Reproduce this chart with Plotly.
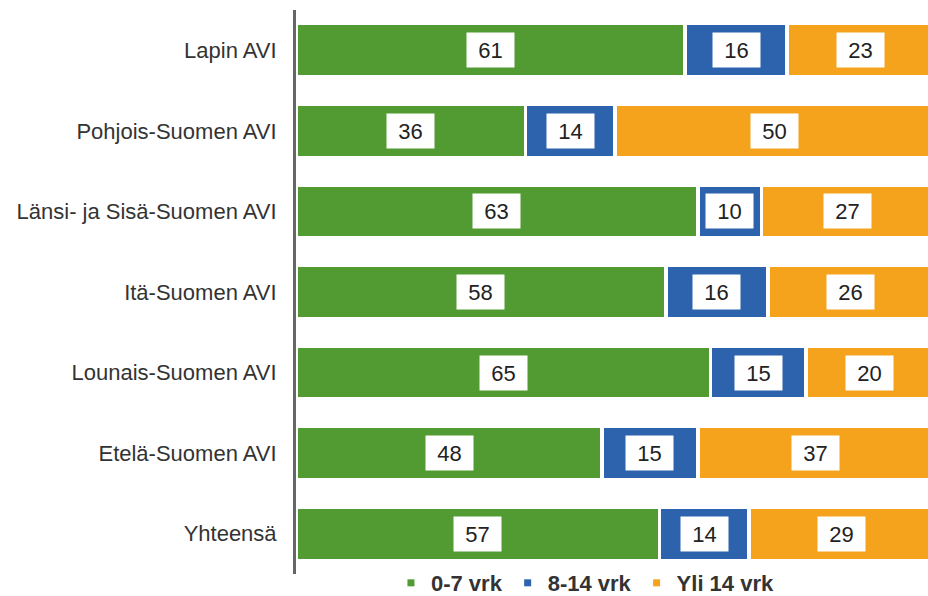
import plotly.graph_objects as go

categories = ["Lapin AVI", "Pohjois-Suomen AVI", "Länsi- ja Sisä-Suomen AVI",
              "Itä-Suomen AVI", "Lounais-Suomen AVI", "Etelä-Suomen AVI", "Yhteensä"]
series_names = ["0-7 vrk", "8-14 vrk", "Yli 14 vrk"]
v_0_7 = [61, 36, 63, 58, 65, 48, 57]
v_8_14 = [16, 14, 10, 16, 15, 15, 14]
v_yli14 = [23, 50, 27, 26, 20, 37, 29]
colors = ["#529b32", "#2d62ad", "#f5a31d"]

series = [v_0_7, v_8_14, v_yli14]
FONT = "Liberation Sans, Arial, sans-serif"

fig = go.Figure()
for name, vals, col in zip(series_names, series, colors):
    fig.add_trace(go.Bar(
        y=categories, x=vals, name=name, orientation="h",
        marker=dict(color=col, line=dict(color="white", width=3.5)),
        showlegend=False, hoverinfo="x+name",
    ))
    # legend proxy with small square marker
    fig.add_trace(go.Scatter(
        x=[None], y=[None], mode="markers", name=name,
        marker=dict(symbol="square", size=7, color=col),
        showlegend=True,
    ))

annotations = []
for i, cat in enumerate(categories):
    start = 0
    for vals in series:
        v = vals[i]
        annotations.append(dict(
            x=start + v / 2, y=cat, xref="x", yref="y",
            text=str(v), showarrow=False,
            font=dict(family=FONT, size=22, color="#222222"),
            bgcolor="white", width=47, height=34, borderpad=0,
            align="center", valign="middle",
        ))
        start += v

fig.update_layout(
    barmode="stack",
    bargap=0.34,
    width=928, height=596,
    margin=dict(l=296, r=0, t=10, b=22, autoexpand=False),
    paper_bgcolor="white", plot_bgcolor="white",
    font=dict(family=FONT, color="#333333"),
    annotations=annotations,
    legend=dict(
        orientation="h", traceorder="normal",
        x=0.458, xanchor="center",
        y=-0.016, yanchor="middle",
        font=dict(family=FONT, size=22, color="#333333", weight="bold"),
        itemwidth=30, bgcolor="rgba(0,0,0,0)",
    ),
)
fig.update_xaxes(range=[0, 99.1], visible=False, showgrid=False, zeroline=False)
fig.update_yaxes(
    categoryorder="array", categoryarray=categories, autorange="reversed",
    showline=True, linecolor="#666666", linewidth=3,
    ticks="", ticklabelstandoff=12,
    tickfont=dict(family=FONT, size=22, color="#333333"),
    showgrid=False, zeroline=False,
)

fig.write_html("out.html")
